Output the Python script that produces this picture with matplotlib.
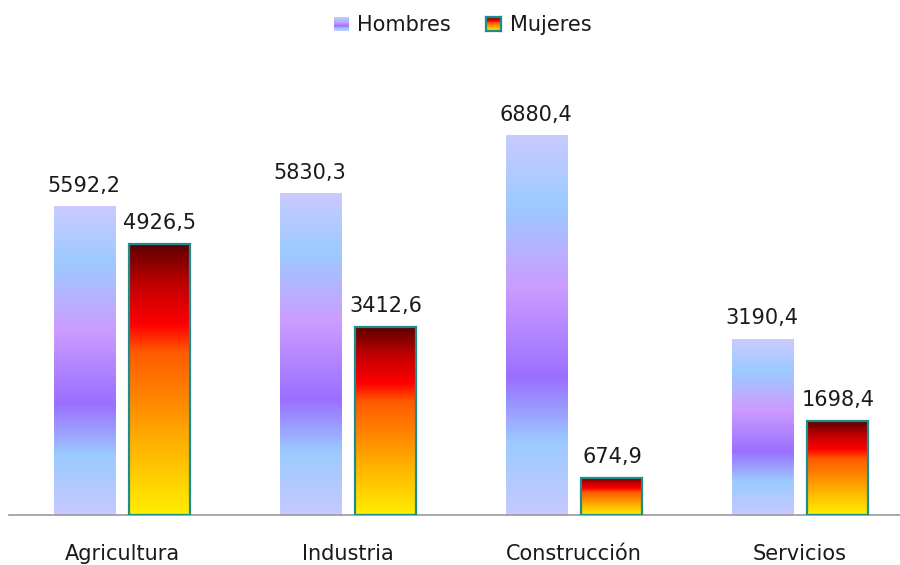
import numpy as np
import matplotlib.pyplot as plt
from matplotlib.colors import LinearSegmentedColormap

plt.rcParams['font.family'] = ['DejaVu Sans']

categories = ['Agricultura', 'Industria', 'Construcción', 'Servicios']
hombres = [5592.2, 5830.3, 6880.4, 3190.4]
mujeres = [4926.5, 3412.6, 674.9, 1698.4]
series_names = ['Hombres', 'Mujeres']

# gradient stops, 0 = bottom of the bar, 1 = top
cmap_h = LinearSegmentedColormap.from_list('h', [
    (0.0, '#c6c9ff'), (0.19, '#9ccbff'), (0.36, '#9a6fff'),
    (0.60, '#cc9cff'), (0.82, '#9ccbff'), (1.0, '#cacaff')])
cmap_m = LinearSegmentedColormap.from_list('m', [
    (0.0, '#ffee00'), (0.25, '#ffb400'), (0.45, '#ff7f00'),
    (0.60, '#ff5a00'), (0.70, '#ff0000'), (0.85, '#c00000'),
    (1.0, '#5a0000')])
edge = '#1f8c8c'

fig = plt.figure(figsize=(9, 5.65), dpi=100)
ax = fig.add_axes([9 / 900, 50 / 565, 904 / 900, 455 / 565])

x = np.arange(len(categories))
w = 0.27
off = 0.168
grad = np.linspace(0, 1, 256).reshape(-1, 1)

bars_h = ax.bar(x - off, hombres, w, color='none', linewidth=0)
bars_m = ax.bar(x + off, mujeres, w, color='none', edgecolor=edge, linewidth=1.6, zorder=3)

for bars, cmap in [(bars_h, cmap_h), (bars_m, cmap_m)]:
    for b in bars:
        x0, h = b.get_x(), b.get_height()
        ax.imshow(grad, cmap=cmap, origin='lower', aspect='auto',
                  extent=[x0, x0 + b.get_width(), 0, h], zorder=2)

for bars, vals in [(bars_h, hombres), (bars_m, mujeres)]:
    for b, v in zip(bars, vals):
        ax.text(b.get_x() + b.get_width() / 2, v + 200,
                f'{v:.1f}'.replace('.', ','), ha='center', va='bottom',
                fontsize=15, color='#1a1a1a')

ax.set_xlim(-0.5, 3.5)
ax.set_ylim(0, 455 / 0.0551)
for s in ['top', 'right', 'left']:
    ax.spines[s].set_visible(False)
ax.spines['bottom'].set_color('#9a9a9a')
ax.spines['bottom'].set_linewidth(1.2)
ax.set_yticks([])
ax.set_xticks(x)
ax.set_xticklabels(categories, fontsize=15, color='#1a1a1a')
ax.tick_params(axis='x', length=0, pad=21)

# legend drawn by hand
lh = fig.add_axes([334 / 900, 1 - 31 / 565, 15 / 900, 14 / 565])
lh.imshow(grad, cmap=cmap_h, origin='lower', aspect='auto')
lh.axis('off')
lm = fig.add_axes([486 / 900, 1 - 31 / 565, 15 / 900, 14 / 565])
lm.imshow(grad, cmap=cmap_m, origin='lower', aspect='auto')
lm.set_xticks([])
lm.set_yticks([])
for s in lm.spines.values():
    s.set_color(edge)
    s.set_linewidth(1.6)
fig.text(357 / 900, 1 - 25 / 565, series_names[0], fontsize=15, va='center', color='#1a1a1a')
fig.text(510 / 900, 1 - 25 / 565, series_names[1], fontsize=15, va='center', color='#1a1a1a')

fig.savefig('out.png', dpi=100)
